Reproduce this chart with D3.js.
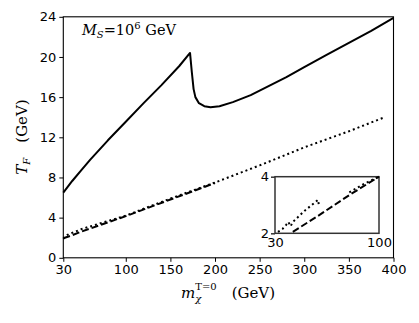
<!DOCTYPE html>
<html><head><meta charset="utf-8">
<script src="https://cdn.jsdelivr.net/npm/d3@7"></script>
<style>body{margin:0;background:#fff}svg{display:block}</style>
</head><body>
<svg id="c" width="419" height="323"></svg>
<script>
const xTicks = [30,100,150,200,250,300,350,400];
const yTicks = [0,4,8,12,16,20,24];
const solidX = [30,40,50,60,80,100,120,140,160,172,174,176,178,182,188,195,205,220,240,260,280,300,325,350,375,400];
const solidY = [6.5,7.65,8.7,9.75,11.7,13.55,15.4,17.2,19.1,20.4,18.5,16.8,16.0,15.4,15.1,15.0,15.1,15.5,16.2,17.1,18.0,19.0,20.2,21.4,22.6,23.9];
const dottedX = [30,33,36,39,42,50,100,150,200,250,300,350,390];
const dottedY = [1.9,2.2,2.35,2.45,2.55,2.85,4.2,5.9,7.5,9.2,11.0,12.6,14.0];
const dashedX = [30,35,40,50,100,150,200];
const dashedY = [1.95,2.1,2.25,2.6,4.15,5.8,7.45];
// inset
const insetXTicks = [30,100];
const insetYTicks = [2,4];
const inDashX = [42,60,80,100];
const inDashY = [2.05,2.65,3.35,4.0];
const inDot1X = [32,35,37.5,39,40.5,42,50,59,59.5];
const inDot1Y = [2.05,2.15,2.3,2.4,2.25,2.4,2.8,3.18,3.0];
const inDot2X = [80,90,100];
const inDot2Y = [3.45,3.75,4.0];

const svg = d3.select('#c');
const x = d3.scaleLinear().domain([30,400]).range([63.3,393.5]);
const y = d3.scaleLinear().domain([0,24]).range([257.8,16.8]);

const g = svg.append('g');
g.append('rect').attr('x',x(30)).attr('y',y(24)).attr('width',x(400)-x(30)).attr('height',y(0)-y(24))
 .attr('fill','none').attr('stroke','#000').attr('stroke-width',1.1);

const xAxis = d3.axisBottom(x).tickValues(xTicks).tickSize(4).tickPadding(3).tickFormat(d3.format('d'));
const yAxis = d3.axisLeft(y).tickValues(yTicks).tickSize(4).tickPadding(3).tickFormat(d3.format('d'));
const ax = g.append('g').attr('transform',`translate(0,${y(0)})`).call(xAxis);
const ay = g.append('g').attr('transform',`translate(${x(30)},0)`).call(yAxis);
[ax,ay].forEach(a=>{
  a.select('.domain').remove();
  a.selectAll('line').attr('stroke','#000').attr('stroke-width',1);
  a.selectAll('text').attr('font-family','DejaVu Sans').attr('font-size',13).attr('fill','#000');
});

const line = (xs,ys,xs_,ys_) => d3.line().x((d,i)=>xs_(xs[i])).y((d,i)=>ys_(ys[i]))(xs);
g.append('path').attr('d',line(solidX,solidY,x,y)).attr('fill','none').attr('stroke','#000').attr('stroke-width',2).attr('stroke-linejoin','round');
g.append('path').attr('d',line(dottedX,dottedY,x,y)).attr('fill','none').attr('stroke','#000').attr('stroke-width',2).attr('stroke-dasharray','2,3');
g.append('path').attr('d',line(dashedX,dashedY,x,y)).attr('fill','none').attr('stroke','#000').attr('stroke-width',2).attr('stroke-dasharray','7,3');

// inset
const xi = d3.scaleLinear().domain([30,100]).range([275,379]);
const yi = d3.scaleLinear().domain([2,4]).range([233.3,176.7]);
const gi = svg.append('g');
gi.append('rect').attr('x',xi(30)).attr('y',yi(4)).attr('width',xi(100)-xi(30)).attr('height',yi(2)-yi(4))
 .attr('fill','#fff').attr('stroke','#333').attr('stroke-width',1.5);
const axi = gi.append('g').attr('transform',`translate(0,${yi(2)})`).call(d3.axisBottom(xi).tickValues(insetXTicks).tickSize(0).tickPadding(4).tickFormat(d3.format('d')));
const ayi = gi.append('g').attr('transform',`translate(${xi(30)},0)`).call(d3.axisLeft(yi).tickValues(insetYTicks).tickSize(4).tickPadding(2).tickFormat(d3.format('d')));
[axi,ayi].forEach(a=>{
  a.select('.domain').remove();
  a.selectAll('line').attr('stroke','#333').attr('stroke-width',1.5);
  a.selectAll('text').attr('font-family','DejaVu Sans').attr('font-size',13).attr('fill','#000');
});
gi.append('path').attr('d',line(inDashX,inDashY,xi,yi)).attr('fill','none').attr('stroke','#000').attr('stroke-width',2).attr('stroke-dasharray','7,3');
gi.append('path').attr('d',line(inDot1X,inDot1Y,xi,yi)).attr('fill','none').attr('stroke','#000').attr('stroke-width',2).attr('stroke-dasharray','2,3');
gi.append('path').attr('d',line(inDot2X,inDot2Y,xi,yi)).attr('fill','none').attr('stroke','#000').attr('stroke-width',2).attr('stroke-dasharray','2,3');

// annotation
const ann = svg.append('text').attr('x',82).attr('y',35).attr('font-family','DejaVu Serif').attr('font-size',14.5).attr('fill','#000');
ann.append('tspan').attr('font-style','italic').text('M');
ann.append('tspan').attr('font-style','italic').attr('font-size',10).attr('dy',3).text('S');
ann.append('tspan').attr('dy',-3).text('=10');
ann.append('tspan').attr('font-size',10).attr('dy',-6).text('6');
ann.append('tspan').attr('dy',6).text(' GeV');

// y label
const yl = svg.append('text').attr('transform','translate(27,137) rotate(-90)').attr('text-anchor','middle')
  .attr('font-family','DejaVu Serif').attr('font-size',15).attr('fill','#000');
yl.append('tspan').attr('font-style','italic').text('T');
yl.append('tspan').attr('font-style','italic').attr('font-size',10).attr('dy',3).text('F');
yl.append('tspan').attr('dy',-3).text('\u2002\u2002(GeV)');

// x label
const xl = svg.append('text').attr('x',228).attr('y',298).attr('text-anchor','middle')
  .attr('font-family','DejaVu Serif').attr('font-size',15).attr('fill','#000');
xl.append('tspan').attr('font-style','italic').text('m');
xl.append('tspan').attr('font-style','italic').attr('font-size',10).attr('dy',4).text('\u03C7');
xl.append('tspan').attr('font-size',10).attr('dx',-6).attr('dy',-12).text('T=0');
xl.append('tspan').attr('dy',8).text('\u2003(GeV)');
</script>
</body></html>
